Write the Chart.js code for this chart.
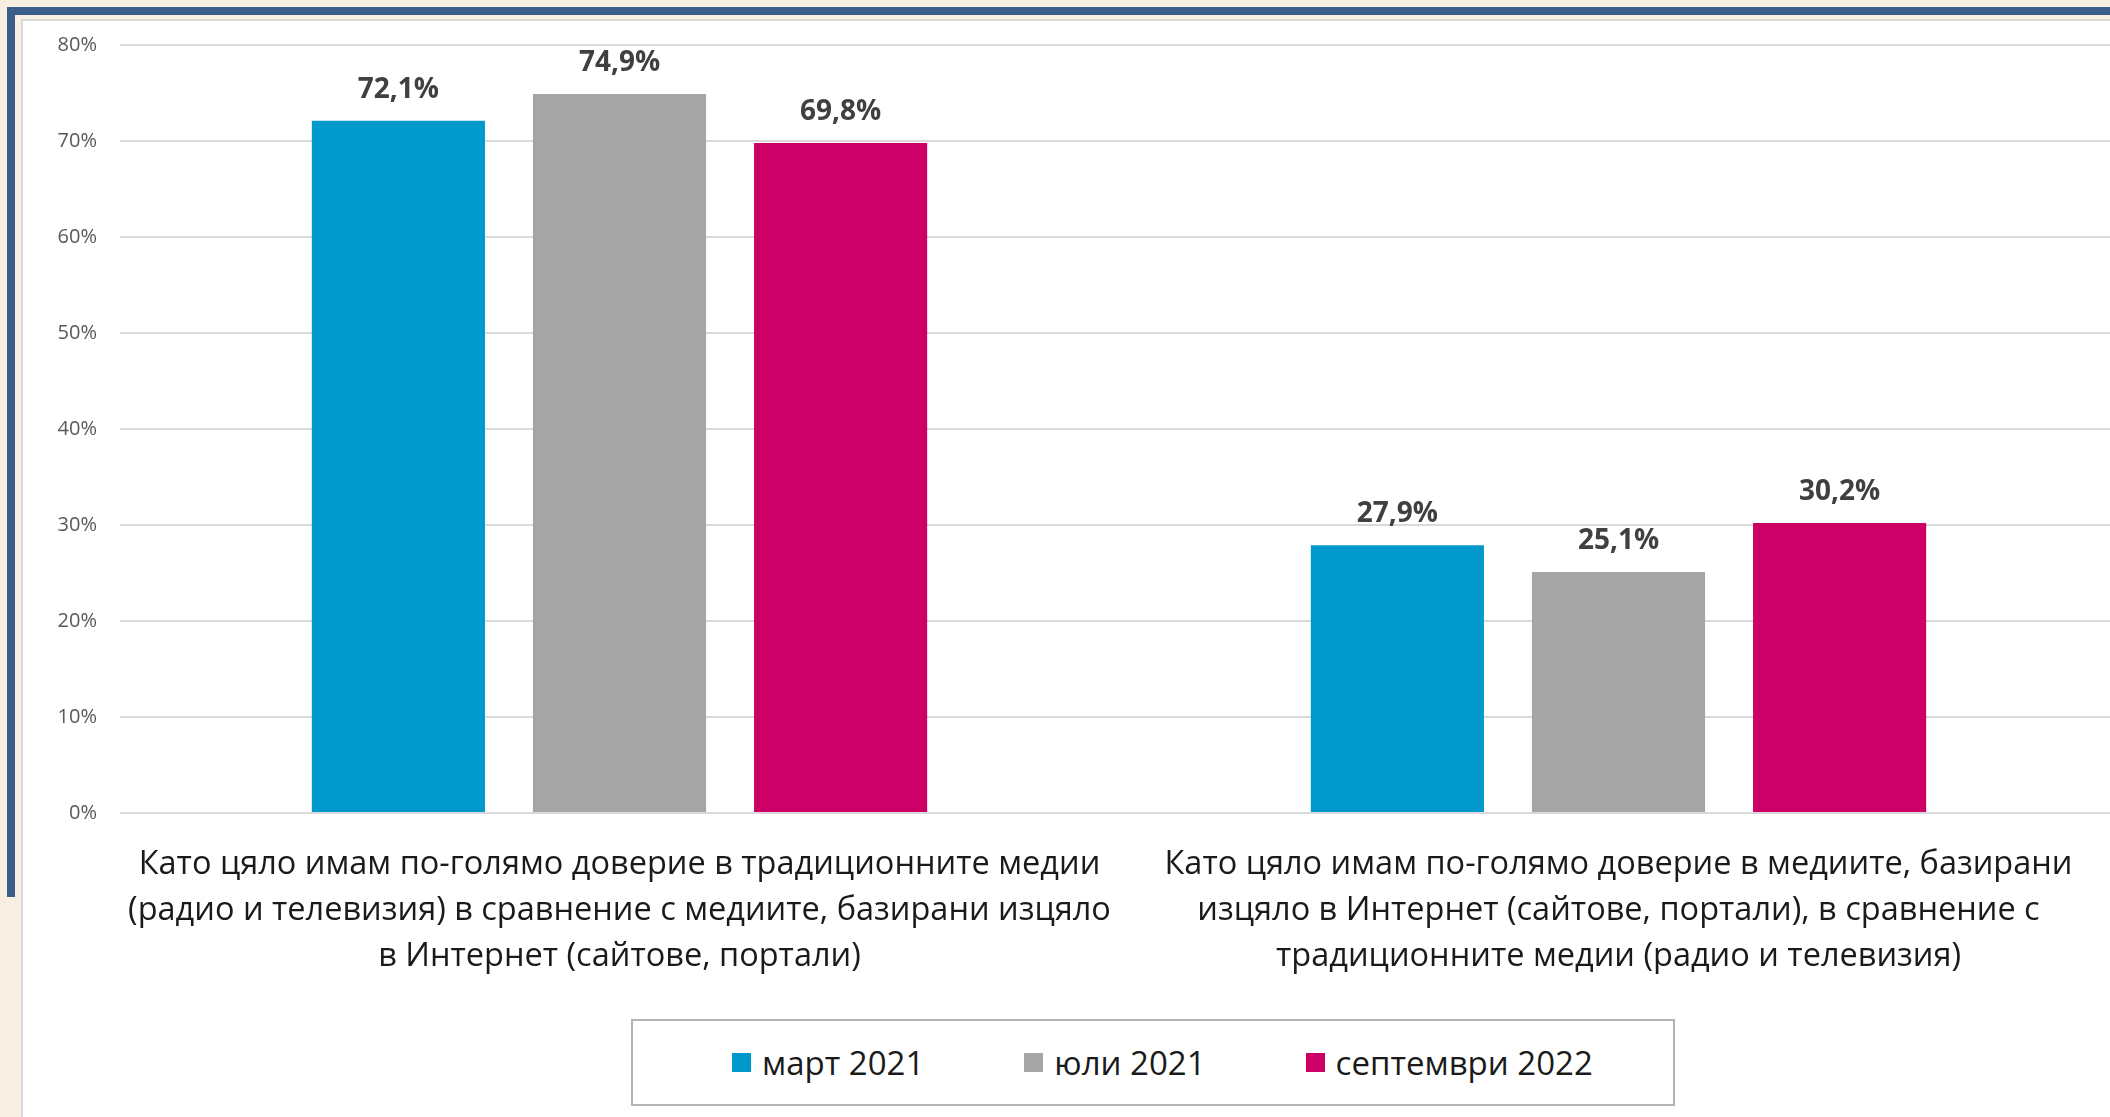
<!DOCTYPE html>
<html>
<head>
<meta charset="utf-8">
<script src="https://cdn.jsdelivr.net/npm/chart.js@4.4.0/dist/chart.umd.min.js"></script>
<style>
  html, body { margin: 0; padding: 0; }
  body {
    width: 2110px; height: 1117px; overflow: hidden; position: relative;
    background: #f7efe1; font-family: "Open Sans", sans-serif;
  }
  .blue-top { position: absolute; left: 7px; top: 7px; width: 2110px; height: 8px; background: #3a5f8a; }
  .blue-left { position: absolute; left: 7px; top: 7px; width: 8px; height: 890px; background: #3a5f8a; }
  .panel {
    position: absolute; left: 21px; top: 19px; width: 2200px; height: 1200px;
    background: #fff; border-left: 2px solid #d9d9d9; border-top: 2px solid #d9d9d9;
  }
  .wrap { position: absolute; left: 23px; top: 10px; width: 2095px; height: 990px; }
  .legend {
    position: absolute; left: 631px; top: 1019px; width: 1040px; height: 83px;
    border: 2px solid #b3b3b3; box-sizing: content-box;
    display: flex; align-items: center; justify-content: flex-start;
    font-size: 33px; color: #1a1a1a; white-space: nowrap;
  }
  .legend .item:first-child { margin-left: 99px; }
  .legend .item:last-child { margin-right: 0; }
  .item { display: flex; align-items: center; margin-right: 100px; flex-shrink: 0; }
  .sw { width: 19px; height: 19px; margin-right: 11px; flex-shrink: 0; }
</style>
</head>
<body>
<div class="blue-top"></div>
<div class="blue-left"></div>
<div class="panel"></div>
<div class="wrap"><canvas id="grafico"></canvas></div>
<div class="legend" id="leyenda"></div>
<script>
// datos
const categorias = [
  ["Като цяло имам по-голямо доверие в традиционните медии",
   "(радио и телевизия) в сравнение с медиите, базирани изцяло",
   "в Интернет (сайтове, портали)"],
  ["Като цяло имам по-голямо доверие в медиите, базирани",
   "изцяло в Интернет (сайтове, портали), в сравнение с",
   "традиционните медии (радио и телевизия)"]
];
const series = ["март 2021", "юли 2021", "септември 2022"];
const mart2021 = [72.1, 27.9];
const yuli2021 = [74.9, 25.1];
const septemvri2022 = [69.8, 30.2];
const colores = ["#0099cc", "#a5a5a5", "#cc0066"];
const yTicks = ["0%", "10%", "20%", "30%", "40%", "50%", "60%", "70%", "80%"];

const etiquetas = {
  id: "etiquetas",
  afterDatasetsDraw(chart) {
    const ctx = chart.ctx;
    ctx.save();
    ctx.font = 'bold 28px "Open Sans"';
    ctx.fillStyle = "#404040";
    ctx.textAlign = "center";
    ctx.textBaseline = "middle";
    chart.data.datasets.forEach((ds, i) => {
      chart.getDatasetMeta(i).data.forEach((bar, j) => {
        const txt = ds.data[j].toFixed(1).replace(".", ",") + "%";
        ctx.fillText(txt, bar.x, bar.y - 31);
      });
    });
    ctx.restore();
  }
};

const valores = [mart2021, yuli2021, septemvri2022];

new Chart(document.getElementById("grafico").getContext("2d"), {
  type: "bar",
  data: {
    labels: categorias,
    datasets: series.map((s, i) => ({
      label: s,
      data: valores[i],
      backgroundColor: colores[i],
      categoryPercentage: 0.664,
      barPercentage: 0.783
    }))
  },
  options: {
    responsive: true,
    maintainAspectRatio: false,
    animation: false,
    layout: { padding: { top: 11, left: 0, right: 0, bottom: 0 } },
    scales: {
      y: {
        min: 0, max: 80,
        afterFit(scale) { scale.width = 97; },
        border: { display: false },
        grid: { color: "#d9d9d9", lineWidth: 2, drawTicks: false },
        ticks: {
          stepSize: 10, padding: 23, color: "#595959",
          font: { family: "Open Sans", size: 20 },
          callback: (v, i) => yTicks[i]
        }
      },
      x: {
        afterFit(scale) { scale.height = 187; },
        border: { display: false },
        grid: { display: false },
        ticks: {
          padding: 21, color: "#1a1a1a", maxRotation: 0, autoSkip: false,
          font: { family: "Open Sans", size: 32.5, lineHeight: 1.415 }
        }
      }
    },
    plugins: {
      legend: { display: false },
      tooltip: { enabled: false }
    }
  },
  plugins: [etiquetas]
});

// leyenda
const leyenda = document.getElementById("leyenda");
series.forEach((s, i) => {
  const it = document.createElement("div");
  it.className = "item";
  it.innerHTML = '<span class="sw" style="background:' + colores[i] + '"></span><span>' + s + '</span>';
  leyenda.appendChild(it);
});
</script>
</body>
</html>
